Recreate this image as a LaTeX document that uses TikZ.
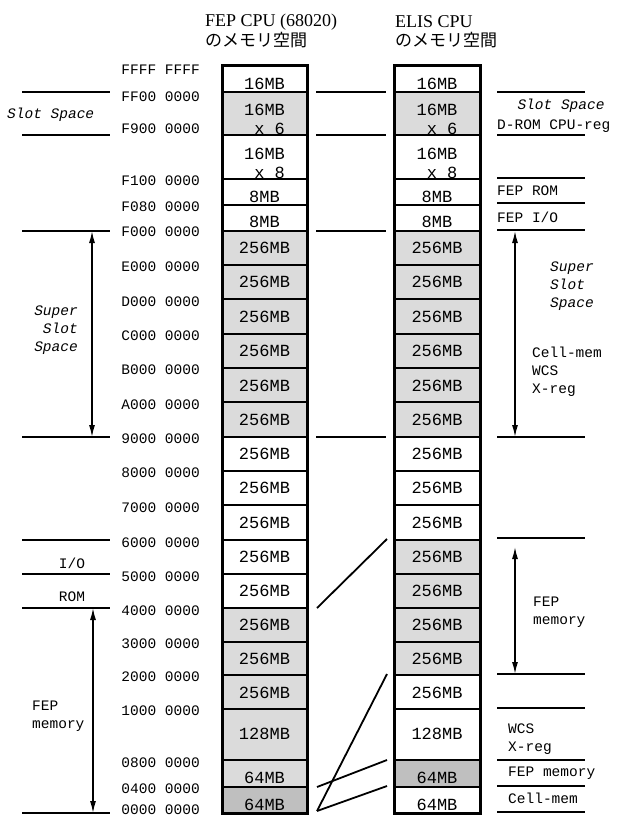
\documentclass[tikz,border=0pt]{standalone}
\usepackage{fontspec}
\setmainfont{Liberation Serif}
\setmonofont{Liberation Mono}
\newfontfamily\jpfont{Noto Sans CJK JP}
\usetikzlibrary{arrows.meta}
\tikzset{
  cell/.style={draw,line width=2pt},
  lt/.style={fill=gray!28},
  dk/.style={fill=gray!50},
  wh/.style={fill=white},
  addr/.style={font=\ttfamily\fontsize{14.5}{18}\selectfont,anchor=east,inner sep=0pt},
  note/.style={font=\ttfamily\fontsize{14.5}{18}\selectfont,align=left,anchor=west,inner sep=0pt},
  slot/.style={font=\ttfamily\itshape\fontsize{14.5}{18}\selectfont,inner sep=0pt},
  mb/.style={font=\ttfamily\fontsize{17}{19}\selectfont,align=right,inner sep=0pt},
  rule/.style={line width=1.6pt},
  span/.style={line width=1.4pt,{Latex[length=12pt,width=6pt]}-{Latex[length=12pt,width=6pt]}},
  link/.style={line width=1.8pt}
}
\begin{document}
\begin{tikzpicture}[x=1pt,y=-1pt]
\useasboundingbox (0,0) rectangle (616,816);
% titles
\node[anchor=west,inner sep=0pt,font=\fontsize{18}{20}\selectfont] (fepT) at (205,22) {FEP CPU (68020)};
\node[anchor=west,inner sep=0pt,font=\jpfont\fontsize{17}{20}\selectfont] (fepJ) at (205,40) {のメモリ空間};
\node[anchor=west,inner sep=0pt,font=\fontsize{18}{20}\selectfont] (elisT) at (395,22) {ELIS CPU};
\node[anchor=west,inner sep=0pt,font=\jpfont\fontsize{17}{20}\selectfont] (elisJ) at (395,40) {のメモリ空間};

% memory cells, left = FEP, right = ELIS
\foreach \ya/\yb/\ty/\lab/\lf/\rf [count=\i] in {
  66/92/84/16MB/wh/wh,
  92/135/119/{16MB\\x 6}/lt/lt,
  135/179/163/{16MB\\x 8}/wh/wh,
  179/205/197/8MB/wh/wh,
  205/231/222/8MB/wh/wh,
  231/265/248/256MB/lt/lt,
  265/299/282/256MB/lt/lt,
  299/334/317/256MB/lt/lt,
  334/368/351/256MB/lt/lt,
  368/402/386/256MB/lt/lt,
  402/437/420/256MB/lt/lt,
  437/471/454/256MB/wh/wh,
  471/505/488/256MB/wh/wh,
  505/540/523/256MB/wh/wh,
  540/574/557/256MB/wh/lt,
  574/608/591/256MB/wh/lt,
  608/642/625/256MB/lt/lt,
  642/675/659/256MB/lt/lt,
  675/709/693/256MB/lt/wh,
  709/760/734/128MB/lt/wh,
  760/787/778/64MB/lt/dk,
  787/813/805/64MB/dk/wh}{
  \draw[cell,\lf] (222,\ya) rectangle (307,\yb);
  \draw[cell,\rf] (394,\ya) rectangle (480,\yb);
  \node[mb] (L\i) at (264.5,\ty) {\lab};
  \node[mb] (R\i) at (437,\ty) {\lab};
}
\draw[line width=3pt] (222,66) rectangle (307,813);
\draw[line width=3pt] (394,66) rectangle (480,813);

% addresses
\foreach \y/\t [count=\i] in {70/{FFFF FFFF},97/{FF00 0000},129/{F900 0000},181/{F100 0000},
  207/{F080 0000},232/{F000 0000},267/{E000 0000},302/{D000 0000},336/{C000 0000},
  370/{B000 0000},405/{A000 0000},439/{9000 0000},473/{8000 0000},508/{7000 0000},
  543/{6000 0000},577/{5000 0000},611/{4000 0000},644/{3000 0000},677/{2000 0000},
  711/{1000 0000},763/{0800 0000},789/{0400 0000},810/{0000 0000}}
  \node[addr] (a\i) at (200,\y) {\t};

% boundary lines
\foreach \y in {92,135,231,437,540,574,608,813}
  \draw[rule] (22,\y) -- (110,\y);
\foreach \y in {92,135,231,437}
  \draw[rule] (316,\y) -- (386,\y);
\foreach \y in {92,135,178,203,230,437,538,674,708,760,786,812}
  \draw[rule] (497,\y) -- (585,\y);

% left notes
\node[slot,anchor=west] (slotL) at (7,115) {Slot Space};
\node[slot,align=right,anchor=east] (superL) at (78,330) {Super\\Slot\\Space};
\node[note,anchor=center] (io) at (72,563) {I/O};
\node[note,anchor=center] (rom) at (72,597) {ROM};
\node[note] (fepL) at (32,716) {FEP\\memory};

% right notes
\node[slot] (slotR) at (561,106) {Slot Space};
\node[note] (drom) at (497,126) {D-ROM CPU-reg};
\node[note] (fepRom) at (497,191) {FEP ROM};
\node[note] (fepIo) at (497,217) {FEP I/O};
\node[slot,align=left,anchor=west] (superR) at (550,286) {Super\\Slot\\Space};
\node[note] (cellR) at (532,372) {Cell-mem\\WCS\\X-reg};
\node[note] (fepR) at (533,612) {FEP\\memory};
\node[note] (wcsR) at (508,739) {WCS\\X-reg};
\node[note] (fepR2) at (508,773) {FEP memory};
\node[note] (cellR2) at (508,798) {Cell-mem};

% spans
\coordinate (sl1) at (92,231); \coordinate (sl2) at (92,437);
\coordinate (fl1) at (93,608); \coordinate (fl2) at (93,813);
\coordinate (sr1) at (515,231); \coordinate (sr2) at (515,437);
\coordinate (fr1) at (515,547); \coordinate (fr2) at (515,674);
\draw[span] (sl1) -- (sl2);
\draw[span] (fl1) -- (fl2);
\draw[span] (sr1) -- (sr2);
\draw[span] (fr1) -- (fr2);

% mapping lines
\coordinate (m1) at (317,608); \coordinate (n1) at (387,539);
\coordinate (m2) at (317,811); \coordinate (n2) at (387,674);
\coordinate (m3) at (317,787); \coordinate (n3) at (387,760);
\coordinate (n4) at (387,786);
\draw[link] (m1) -- (n1);
\draw[link] (m2) -- (n2);
\draw[link] (m3) -- (n3);
\draw[link] (m2) -- (n4);
\end{tikzpicture}
\end{document}
